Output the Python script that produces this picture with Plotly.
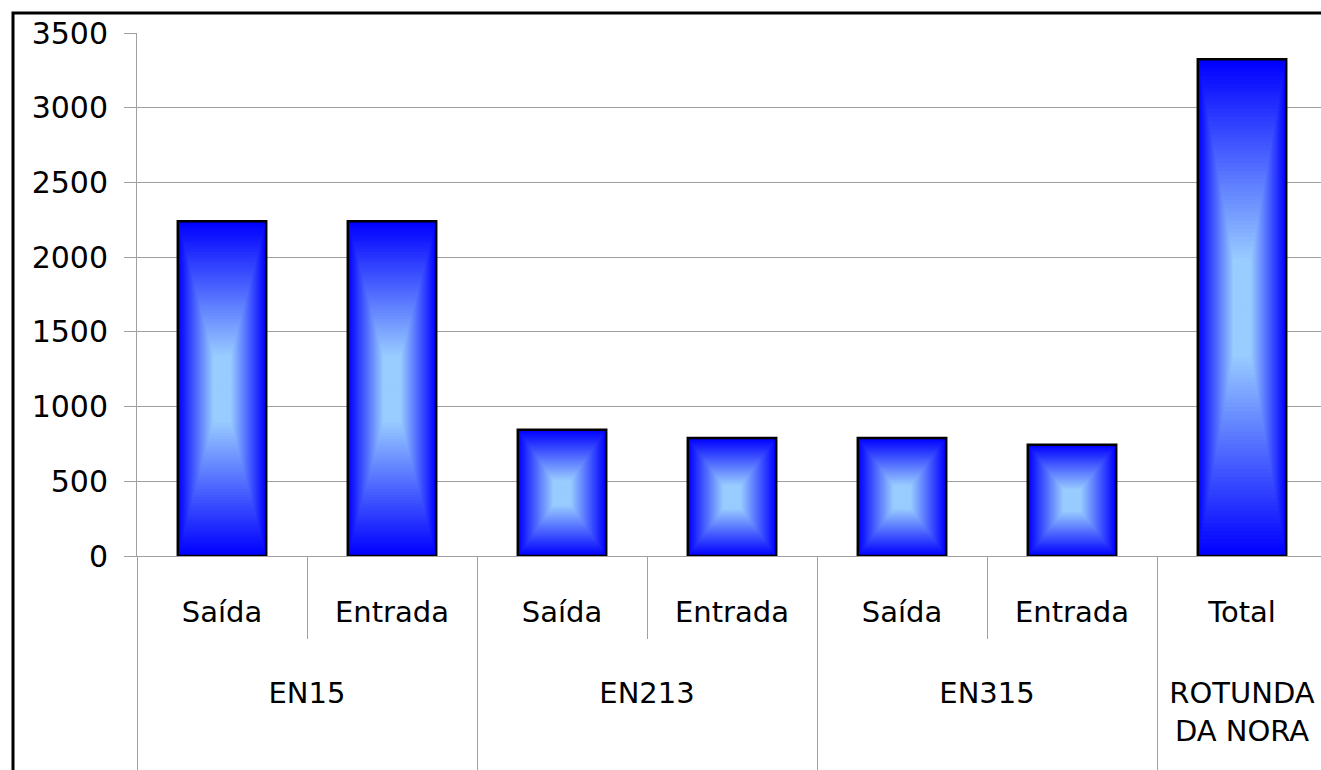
import plotly.graph_objects as go

# Traffic volumes per road and direction
groups = ["EN15", "EN15", "EN213", "EN213", "EN315", "EN315", "ROTUNDA<br>DA NORA"]
directions = ["Saída", "Entrada", "Saída", "Entrada", "Saída", "Entrada", "Total"]
volumes = [2240, 2240, 845, 790, 790, 745, 3325]

y_ticks = [0, 500, 1000, 1500, 2000, 2500, 3000, 3500]

# Styling
FONT = "DejaVu Sans"
GRID = "#a0a0a0"
BAR_WIDTH = 0.52
EDGE_RGB = (0, 0, 255)
CENTER_RGB = (153, 204, 255)
LAYERS = 60
PLATEAU = 0.8   # fraction of the way to the centre where the light colour is reached

W, H = 1321, 770
M_L, M_T, M_B = 137, 33, 214
PLOT_W = W - M_L
PLOT_H = H - M_T - M_B


def ramp(t):
    t = min(1.0, t / PLATEAU)
    r = [round(e + (c - e) * t) for e, c in zip(EDGE_RGB, CENTER_RGB)]
    return f"rgb({r[0]},{r[1]},{r[2]})"


# Padding lines keep the direction labels a line lower, push the road names down
# and let the group dividers run to the bottom edge
pad = "\u00a0"
direction_labels = [f"{pad}<br>{d}<br>{pad}" for d in directions]
group_labels = [f"{g}<br>{pad}" for g in groups]
x_cats = [group_labels, direction_labels]

fig = go.Figure()

# Rectangular "from centre" gradient: concentric, shrinking copies of each bar
for k in range(LAYERS):
    s = 1 - k / LAYERS
    fig.add_trace(go.Bar(
        x=x_cats,
        y=[v * s for v in volumes],
        base=[v * (1 - s) / 2 for v in volumes],
        width=BAR_WIDTH * s,
        marker=dict(color=ramp(1 - s), line=dict(width=0)),
        hoverinfo="skip",
        showlegend=False,
    ))

# Black outline on top (on an overlaid axis that carries the category boundary ticks)
fig.add_trace(go.Bar(
    x=x_cats,
    y=volumes,
    width=BAR_WIDTH,
    marker=dict(color="rgba(0,0,0,0)", line=dict(color="black", width=2.5)),
    hoverinfo="skip",
    showlegend=False,
    xaxis="x2",
))

x_range = [-0.5, -0.5 + PLOT_W / 170.0]

fig.update_layout(
    width=W,
    height=H,
    margin=dict(l=M_L, r=0, t=M_T, b=M_B, pad=0, autoexpand=False),
    barmode="overlay",
    plot_bgcolor="white",
    paper_bgcolor="white",
    font=dict(family=FONT, size=29, color="black"),
    xaxis=dict(
        type="multicategory",
        range=x_range,
        automargin=False,
        showdividers=True,
        dividercolor=GRID,
        dividerwidth=1,
        ticks="",
        showline=True,
        linecolor=GRID,
        linewidth=1,
        showgrid=False,
        tickfont=dict(family=FONT, size=29, color="black"),
        ticklabelstandoff=-8,
    ),
    xaxis2=dict(
        type="multicategory",
        overlaying="x",
        anchor="y",
        side="bottom",
        range=x_range,
        automargin=False,
        ticks="outside",
        tickson="boundaries",
        ticklen=82,
        tickcolor=GRID,
        tickwidth=1,
        showticklabels=False,
        showdividers=False,
        showgrid=False,
        zeroline=False,
        showline=False,
    ),
    yaxis=dict(
        range=[0, 3500],
        automargin=False,
        tickmode="array",
        tickvals=y_ticks,
        ticks="outside",
        ticklen=12,
        tickcolor=GRID,
        tickwidth=1,
        showgrid=True,
        gridcolor=GRID,
        gridwidth=1,
        zeroline=False,
        showline=True,
        linecolor=GRID,
        linewidth=1,
        tickfont=dict(family=FONT, size=30, color="black"),
        ticklabelstandoff=10,
    ),
    shapes=[dict(
        type="rect",
        xref="paper", yref="paper",
        x0=(13 - M_L) / PLOT_W, x1=1.2,
        y0=-1.0, y1=(H - M_B - 13) / PLOT_H,
        line=dict(color="black", width=3),
        fillcolor="rgba(0,0,0,0)",
        layer="above",
    )],
)

fig.write_html("out.html")
